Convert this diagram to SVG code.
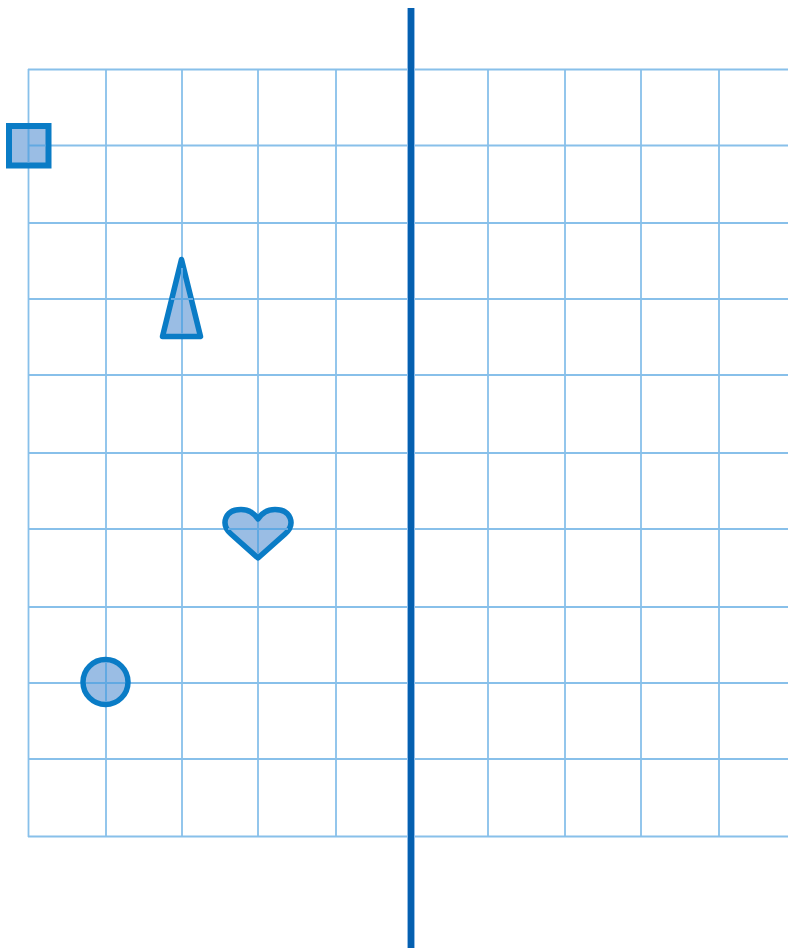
<svg xmlns="http://www.w3.org/2000/svg" width="788" height="948" viewBox="0 0 788 948">
<style>
.g{stroke:#88c0ea;stroke-width:1.800;fill:none}
.i{stroke:#62a9e2;stroke-width:2;fill:none}
.s{fill:#9abde4;stroke:#0a7cc6;stroke-linejoin:round}
</style>
<rect width="788" height="948" fill="#fff"/>
<g id="grid">
<path class="g" d="M28 69.500H788M28 145.500H788M28 223H788M28 299H788M28 375H788M28 453H788M28 529H788M28 607H788M28 683H788M28 759H788M28 836.500H788"/>
<path class="g" d="M28.500 69V837M106 69V837M182 69V837M258 69V837M336 69V837M488 69V837M565 69V837M641 69V837M719 69V837"/>
</g>
<g id="axis"><rect x="407" y="8" width="8" height="940" fill="#92bce6"/><rect x="408" y="8" width="6" height="940" fill="#0560b0"/></g>
<g id="square"><path class="s" d="M9 126H48.500V165.500H9Z" stroke-width="6" style="stroke-linejoin:miter"/><path class="i" d="M28.500 129V162.500M28.500 145.500H45.500"/></g>
<g id="triangle"><path class="s" d="M181.500 259.500L200.500 336.500H162.500Z" stroke-width="5.500"/><path class="i" d="M182 268V334M171 299H193"/></g>
<g id="heart"><path class="s" d="M258 558L231 534C220 524 225 509.500 241 509.500C249 509.500 254 513 258 519C262 513 267 509.500 275 509.500C291 509.500 296 524 285 534Z" stroke-width="5.500"/><path class="i" d="M258 522V554M228 529H288"/></g>
<g id="circle"><circle class="s" cx="105.500" cy="682" r="22.500" stroke-width="5.500"/><path class="i" d="M106 662V702M86 683H125"/></g>
</svg>
